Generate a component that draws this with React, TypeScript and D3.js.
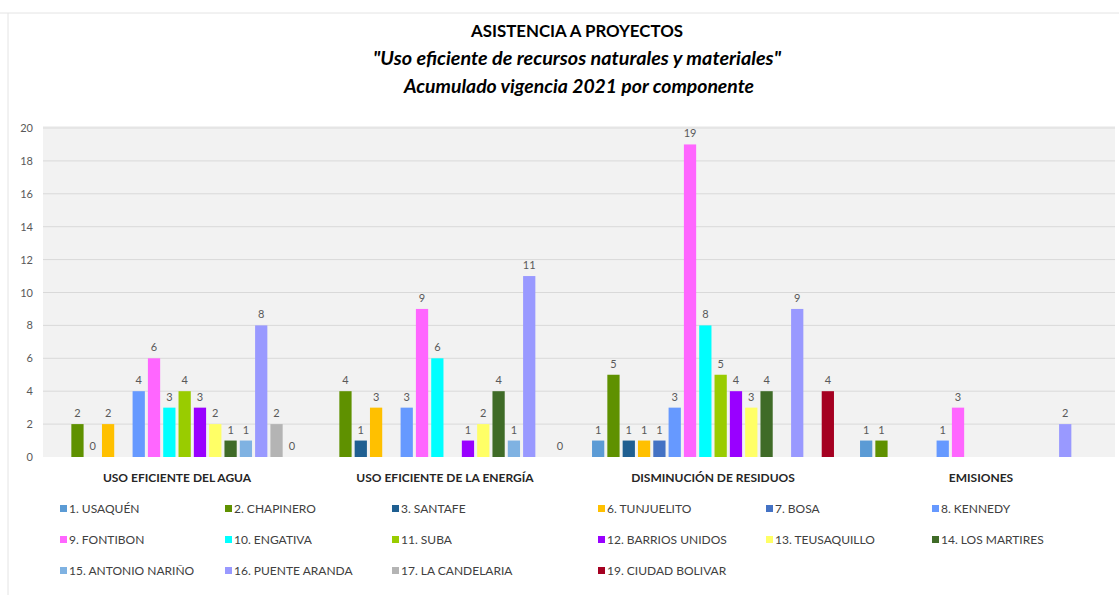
import React from "react";
import * as d3 from "d3";

const categories = [
  "USO EFICIENTE DEL AGUA",
  "USO EFICIENTE DE LA ENERGÍA",
  "DISMINUCIÓN DE RESIDUOS",
  "EMISIONES",
];

const seriesNames = [
  "1. USAQUÉN",
  "2. CHAPINERO",
  "3. SANTAFE",
  "6. TUNJUELITO",
  "7. BOSA",
  "8. KENNEDY",
  "9. FONTIBON",
  "10. ENGATIVA",
  "11. SUBA",
  "12. BARRIOS UNIDOS",
  "13. TEUSAQUILLO",
  "14. LOS MARTIRES",
  "15. ANTONIO NARIÑO",
  "16. PUENTE ARANDA",
  "17. LA CANDELARIA",
  "19. CIUDAD BOLIVAR",
];

const seriesColors = [
  "#5B9BD5",
  "#5F9100",
  "#1F5F91",
  "#FFC000",
  "#4472C4",
  "#6699FF",
  "#FF66FF",
  "#00FFFF",
  "#99CC00",
  "#9900FF",
  "#FFFF66",
  "#3F6B27",
  "#7FB2E2",
  "#9999FF",
  "#B4B4B4",
  "#A50021",
];

// values per category, in series order (null = no bar / no label)
const aguaValues = [null, 2, 0, 2, null, 4, 6, 3, 4, 3, 2, 1, 1, 8, 2, 0];
const energiaValues = [null, 4, 1, 3, null, 3, 9, 6, null, 1, 2, 4, 1, 11, null, 0];
const residuosValues = [1, 5, 1, 1, 1, 3, 19, 8, 5, 4, 3, 4, null, 9, null, 4];
const emisionesValues = [1, 1, null, null, null, 1, 3, null, null, null, null, null, null, 2, null, null];

const categoryValues = [aguaValues, energiaValues, residuosValues, emisionesValues];

const yTicks = [0, 2, 4, 6, 8, 10, 12, 14, 16, 18, 20];

const W = 1119;
const H = 595;
const FONT = "Lato, 'Open Sans', sans-serif";

export default function App() {
  const plotL = 43;
  const plotR = 1115;
  const plotTop = 126;
  const y = d3.scaleLinear().domain([0, 20]).range([457, 128]);
  const x0 = d3.scaleBand<string>().domain(categories).range([plotL, plotR]);
  const bw = x0.bandwidth();
  const x1 = d3
    .scaleBand<string>()
    .domain(seriesNames)
    .range([11.5, bw - 11.5])
    .paddingInner(0.2)
    .paddingOuter(0.1);

  const legendColX = [63, 228, 395, 601, 769, 935];
  const legendRowY = [509, 540, 571];

  return (
    <svg
      width={W}
      height={H}
      style={{ position: "absolute", left: 0, top: 0, background: "#fff" }}
      fontFamily={FONT}
    >
      <rect x={0} y={0} width={W} height={H} fill="#fff" />
      <line x1={0} x2={W} y1={13} y2={13} stroke="#e4e4e4" />
      <line x1={8} x2={8} y1={13} y2={H} stroke="#e4e4e4" />

      {/* title */}
      <g textAnchor="middle" fill="#000" fontFamily="Lato, sans-serif">
        <text x={577} y={37} fontSize={17} fontWeight="bold" textLength={212} lengthAdjust="spacingAndGlyphs">
          ASISTENCIA A PROYECTOS
        </text>
        <text
          x={577}
          y={65}
          fontSize={18}
          fontWeight="bold"
          fontStyle="italic"
          textLength={408}
          lengthAdjust="spacingAndGlyphs"
        >
          "Uso eficiente de recursos naturales y materiales"
        </text>
        <text
          x={579}
          y={93}
          fontSize={18}
          fontWeight="bold"
          fontStyle="italic"
          textLength={350}
          lengthAdjust="spacingAndGlyphs"
        >
          Acumulado vigencia 2021 por componente
        </text>
      </g>

      {/* plot background */}
      <rect x={plotL} y={plotTop} width={plotR - plotL} height={y(0) - plotTop} fill="#F2F2F2" />
      {yTicks.map((t) => (
        <g key={t}>
          {t > 0 && (
            <line x1={plotL} x2={plotR} y1={y(t)} y2={y(t)} stroke="#D9D9D9" strokeWidth={1} />
          )}
          <text x={33} y={y(t) + 4} fontSize={11} fill="#595959" textAnchor="end">
            {t}
          </text>
        </g>
      ))}

      {/* bars */}
      {categories.map((c, ci) => (
        <g key={c} transform={`translate(${x0(c)},0)`}>
          {seriesNames.map((s, si) => {
            const v = categoryValues[ci][si];
            if (v === null || v === undefined) return null;
            const bx = x1(s) as number;
            const w = x1.bandwidth();
            return (
              <g key={s}>
                {v > 0 && (
                  <rect x={bx} y={y(v)} width={w} height={y(0) - y(v)} fill={seriesColors[si]} />
                )}
                <text
                  x={bx + w / 2}
                  y={y(v) - 7}
                  fontSize={11}
                  fill="#595959"
                  textAnchor="middle"
                >
                  {v}
                </text>
              </g>
            );
          })}
          <text
            x={bw / 2}
            y={482}
            fontSize={12}
            fontWeight="bold"
            fill="#262626"
            textAnchor="middle"
          >
            {c}
          </text>
        </g>
      ))}

      {/* legend */}
      {seriesNames.map((s, i) => {
        const lx = legendColX[i % 6];
        const ly = legendRowY[Math.floor(i / 6)];
        return (
          <g key={s}>
            <rect x={lx - 3} y={ly - 4} width={7} height={7} fill={seriesColors[i]} />
            <text x={lx + 6} y={ly + 4} fontSize={12} fill="#404040">
              {s}
            </text>
          </g>
        );
      })}
    </svg>
  );
}
